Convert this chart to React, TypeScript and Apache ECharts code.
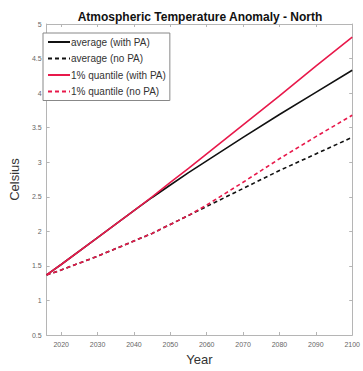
import React, { useEffect, useRef } from "react";
import * as echarts from "echarts";

const years = [2016, 2020, 2030, 2040, 2045, 2050, 2055, 2060, 2070, 2080, 2090, 2100];
const avgWithPA = [1.37, 1.52, 1.91, 2.3, 2.49, 2.67, 2.85, 3.02, 3.36, 3.69, 4.01, 4.33];
const avgNoPA = [1.37, 1.44, 1.64, 1.86, 1.97, 2.1, 2.23, 2.36, 2.62, 2.88, 3.12, 3.36];
const q1WithPA = [1.37, 1.52, 1.91, 2.3, 2.5, 2.71, 2.91, 3.12, 3.54, 3.96, 4.39, 4.81];
const q1NoPA = [1.37, 1.44, 1.64, 1.86, 1.97, 2.1, 2.23, 2.38, 2.71, 3.05, 3.37, 3.68];
const xTicks = [2020, 2030, 2040, 2050, 2060, 2070, 2080, 2090, 2100];
const seriesNames = ["average (with PA)", "average (no PA)", "1% quantile (with PA)", "1% quantile (no PA)"];

const BLACK = "#111111";
const RED = "#e8194b";
const AXIS = "#b5b5b5";

export default function App() {
  const ref = useRef<HTMLDivElement>(null);
  useEffect(() => {
    if (!ref.current) return;
    const chart = echarts.init(ref.current, undefined, { renderer: "svg" });
    const pair = (vals: number[]) => years.map((y, i) => [y, vals[i]]);
    const mk = (name: string, vals: number[], color: string, dashed: boolean) => ({
      name,
      type: "line",
      data: pair(vals),
      showSymbol: false,
      symbol: "none",
      lineStyle: { color, width: 1.6, type: dashed ? [4, 3] : "solid" },
      itemStyle: { color },
    });
    chart.setOption({
      animation: false,
      backgroundColor: "#ffffff",
      title: {
        text: "Atmospheric Temperature Anomaly - North",
        left: 195,
        textAlign: "center",
        top: 6,
        textStyle: { fontFamily: "Liberation Sans", fontSize: 12, fontWeight: "bold", color: "#111" },
      },
      legend: {
        data: seriesNames,
        orient: "vertical",
        left: 43,
        top: 33,
        itemWidth: 22,
        itemHeight: 10,
        itemGap: 6.5,
        padding: [4, 4, 4, 4],
        borderColor: "#888",
        borderWidth: 1,
        backgroundColor: "#fff",
        itemStyle: { opacity: 0 },
        textStyle: { fontFamily: "Liberation Sans", fontSize: 10, color: "#333", padding: [0, 0, 0, -4] },
      },
      grid: { left: 38, right: 10, top: 24, bottom: 31 },
      xAxis: [
        {
          type: "value",
          min: 2016,
          max: 2100,
          name: "Year",
          nameLocation: "middle",
          nameGap: 18,
          nameTextStyle: { fontFamily: "Liberation Sans", fontSize: 13, color: "#333" },
          axisLine: { lineStyle: { color: AXIS } },
          axisTick: { inside: true, length: 3, lineStyle: { color: AXIS }, customValues: xTicks },
          axisLabel: {
            fontFamily: "Liberation Sans",
            fontSize: 7,
            color: "#666",
            margin: 6,
            customValues: xTicks,
            formatter: (v: number) => String(v),
          },
          splitLine: { show: false },
        },
        {
          type: "value",
          position: "top",
          min: 2016,
          max: 2100,
          axisLine: { lineStyle: { color: AXIS } },
          axisTick: { inside: true, length: 3, lineStyle: { color: AXIS }, customValues: xTicks },
          axisLabel: { show: false },
          splitLine: { show: false },
        },
      ],
      yAxis: [
        {
          type: "value",
          min: 0.5,
          max: 5,
          interval: 0.5,
          name: "Celsius",
          nameLocation: "middle",
          nameGap: 22,
          nameTextStyle: { fontFamily: "Liberation Sans", fontSize: 13, color: "#333" },
          axisLine: { show: true, lineStyle: { color: AXIS } },
          axisTick: { show: true, inside: true, length: 3, lineStyle: { color: AXIS } },
          axisLabel: { fontFamily: "Liberation Sans", fontSize: 7, color: "#666", margin: 5 },
          splitLine: { show: false },
        },
        {
          type: "value",
          position: "right",
          min: 0.5,
          max: 5,
          interval: 0.5,
          axisLine: { show: true, lineStyle: { color: AXIS } },
          axisTick: { show: true, inside: true, length: 3, lineStyle: { color: AXIS } },
          axisLabel: { show: false },
          splitLine: { show: false },
        },
      ],
      series: [
        mk(seriesNames[0], avgWithPA, BLACK, false),
        mk(seriesNames[1], avgNoPA, BLACK, true),
        mk(seriesNames[3], q1NoPA, RED, true),
        mk(seriesNames[2], q1WithPA, RED, false),
      ],
    });
    return () => chart.dispose();
  }, []);
  return <div ref={ref} style={{ width: 363, height: 371, position: "absolute", left: 0, top: 0 }} />;
}
